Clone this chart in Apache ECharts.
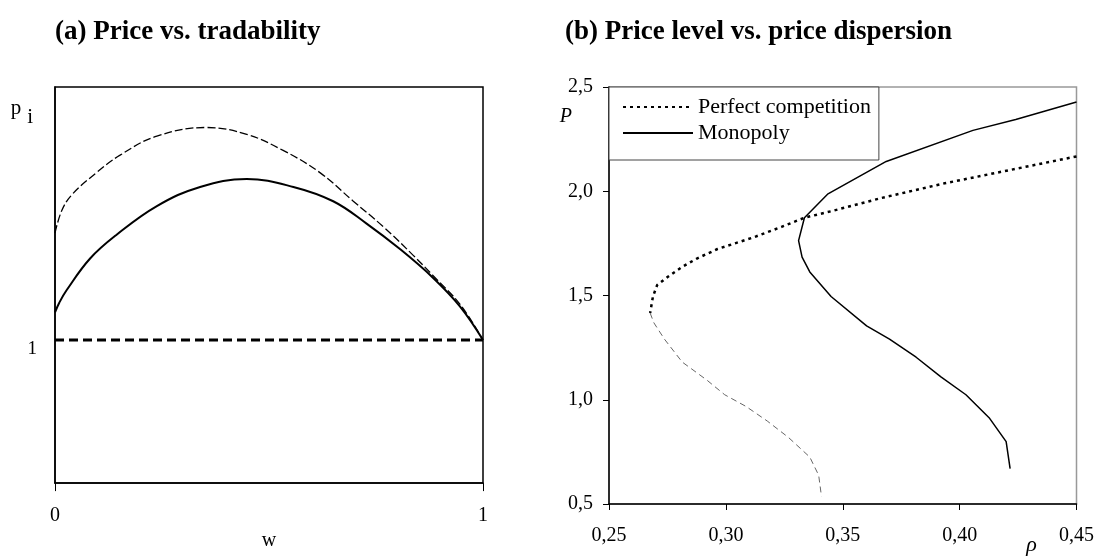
<!DOCTYPE html>
<html>
<head>
<meta charset="utf-8">
<script src="https://cdn.jsdelivr.net/npm/echarts@6/dist/echarts.min.js"></script>
<style>
  html, body { margin: 0; padding: 0; background: #fff; }
  #chart { width: 1097px; height: 556px; }
</style>
</head>
<body>
<div id="chart"></div>
<script>
// (a) price vs. tradability, w on [0, 1]
const wMono = [0, 0.01, 0.027, 0.082, 0.144, 0.238, 0.339, 0.448, 0.557, 0.65, 0.728, 0.806, 0.883, 0.946, 1];
const pMono = [1.193, 1.26, 1.347, 1.569, 1.735, 1.935, 2.069, 2.124, 2.069, 1.969, 1.813, 1.635, 1.435, 1.235, 1.0];
const wComp = [0, 0.0156, 0.039, 0.097, 0.152, 0.238, 0.354, 0.448, 0.533, 0.619, 0.697, 0.767, 0.837, 0.883, 0.946, 1];
const pComp = [1.747, 1.902, 2.013, 2.169, 2.291, 2.424, 2.484, 2.436, 2.324, 2.169, 1.969, 1.791, 1.591, 1.45, 1.25, 1.0];
const wBase = [0, 1];
const pBase = [1, 1];

// (b) price level P vs. price dispersion rho
const rhoMonopoly = [0.45, 0.424, 0.4057, 0.3686, 0.3435, 0.3336, 0.3311, 0.3326, 0.3359, 0.345, 0.3602, 0.370, 0.3814, 0.392, 0.4027, 0.4126, 0.4199, 0.4216];
const pMonopoly = [2.428, 2.344, 2.292, 2.143, 1.986, 1.873, 1.763, 1.684, 1.613, 1.495, 1.354, 1.291, 1.204, 1.110, 1.024, 0.914, 0.799, 0.670];
const rhoPerfectHigh = [0.45, 0.3936, 0.3663, 0.345, 0.3336, 0.3238, 0.3116, 0.2964, 0.2874, 0.2813, 0.2752, 0.2706, 0.2688, 0.2676];
const pPerfectHigh = [2.167, 2.038, 1.967, 1.904, 1.873, 1.829, 1.778, 1.723, 1.676, 1.637, 1.590, 1.550, 1.495, 1.416];
const rhoPerfectLow = [0.2676, 0.2692, 0.2737, 0.2813, 0.2919, 0.2995, 0.3086, 0.3177, 0.3268, 0.3359, 0.3397, 0.3409];
const pPerfectLow = [1.416, 1.369, 1.291, 1.181, 1.094, 1.024, 0.968, 0.898, 0.819, 0.725, 0.638, 0.536];

const pairs = (xs, ys) => xs.map((x, i) => [x, ys[i]]);
const comma = (v, d) => v.toFixed(d).replace('.', ',');

const FONT = 'Liberation Serif';
const chart = echarts.init(document.getElementById('chart'));

chart.setOption({
  animation: false,
  textStyle: { fontFamily: FONT, color: '#000' },
  title: [
    {
      text: '(a) Price vs. tradability',
      left: 50, top: 14,
      textStyle: { fontFamily: FONT, fontSize: 27, fontWeight: 'bold', color: '#000' }
    },
    {
      text: '(b) Price level vs. price dispersion',
      left: 560, top: 14,
      textStyle: { fontFamily: FONT, fontSize: 27, fontWeight: 'bold', color: '#000' }
    }
  ],
  legend: {
    orient: 'vertical',
    left: 609, top: 87,
    padding: [9, 8, 16, 13],
    itemGap: 4,
    itemWidth: 70,
    itemHeight: 14,
    backgroundColor: '#fff',
    borderColor: '#444',
    borderWidth: 1,
    itemStyle: { opacity: 0 },
    data: ['Perfect competition', 'Monopoly'],
    textStyle: { fontFamily: FONT, fontSize: 22, color: '#000' }
  },
  grid: [
    { left: 55, right: 614, top: 87, bottom: 54, show: true, borderColor: '#000', borderWidth: 1.5 },
    { left: 609, right: 19, top: 87, bottom: 46, show: true, borderColor: '#999', borderWidth: 1.5 }
  ],
  xAxis: [
    {
      gridIndex: 0, type: 'value', min: 0, max: 1, interval: 1,
      name: 'w', nameLocation: 'middle', nameGap: 33,
      nameTextStyle: { fontFamily: FONT, fontSize: 20, color: '#000' },
      axisLine: { lineStyle: { color: '#000', width: 1.5 } },
      axisTick: { show: true, length: 8, lineStyle: { color: '#000' } },
      axisLabel: { fontFamily: FONT, fontSize: 20, color: '#000', margin: 23 },
      splitLine: { show: false }
    },
    {
      gridIndex: 1, type: 'value', min: 0.25, max: 0.45, interval: 0.05,
      name: 'ρ', nameLocation: 'end', nameGap: -45,
      nameTextStyle: { fontFamily: FONT, fontSize: 22, fontStyle: 'italic', color: '#000',
        align: 'center', verticalAlign: 'top', padding: [30, 0, 0, 0] },
      axisLine: { lineStyle: { color: '#000', width: 1.5 } },
      axisTick: { show: true, length: 6, lineStyle: { color: '#000' } },
      axisLabel: { fontFamily: FONT, fontSize: 20, color: '#000', margin: 22,
        formatter: v => comma(v, 2) },
      splitLine: { show: false }
    }
  ],
  yAxis: [
    {
      gridIndex: 0, type: 'value', min: 0, max: 2.767,
      name: '{p|p}{i|i}', nameLocation: 'end', nameGap: -26,
      nameTextStyle: {
        align: 'right', verticalAlign: 'middle', padding: [0, 22, 0, 0],
        rich: {
          p: { fontFamily: FONT, fontSize: 21, color: '#000', lineHeight: 30, verticalAlign: 'top', padding: [0, 6, 0, 0] },
          i: { fontFamily: FONT, fontSize: 21, color: '#000', lineHeight: 30, verticalAlign: 'bottom' }
        }
      },
      axisLine: { lineStyle: { color: '#000', width: 1.5 } },
      axisTick: { show: false },
      axisLabel: { fontFamily: FONT, fontSize: 19, color: '#000', margin: 18,
        verticalAlign: 'top', customValues: [1] },
      splitLine: { show: false }
    },
    {
      gridIndex: 1, type: 'value', min: 0.5, max: 2.5, interval: 0.5,
      name: 'P', nameLocation: 'end', nameGap: -30,
      nameTextStyle: { fontFamily: FONT, fontSize: 20, fontStyle: 'italic', color: '#000',
        align: 'right', verticalAlign: 'middle', padding: [0, 37, 0, 0] },
      axisLine: { lineStyle: { color: '#000', width: 1.5 } },
      axisTick: { show: true, length: 6, lineStyle: { color: '#000' } },
      axisLabel: { fontFamily: FONT, fontSize: 20, color: '#000', margin: 16,
        formatter: v => comma(v, 1) },
      splitLine: { show: false }
    }
  ],
  series: [
    {
      name: 'base', type: 'line', xAxisIndex: 0, yAxisIndex: 0,
      data: pairs(wBase, pBase), symbol: 'none',
      lineStyle: { color: '#000', width: 3, type: [9, 5] }
    },
    {
      name: 'a-comp', type: 'line', xAxisIndex: 0, yAxisIndex: 0,
      data: pairs(wComp, pComp), symbol: 'none', smooth: 0.4,
      lineStyle: { color: '#000', width: 1.3, type: [8, 3] }
    },
    {
      name: 'a-mono', type: 'line', xAxisIndex: 0, yAxisIndex: 0,
      data: pairs(wMono, pMono), symbol: 'none', smooth: 0.4,
      lineStyle: { color: '#000', width: 2 }
    },
    {
      name: 'Perfect competition', type: 'line', xAxisIndex: 1, yAxisIndex: 1,
      data: pairs(rhoPerfectHigh, pPerfectHigh), symbol: 'none',
      itemStyle: { color: '#000' },
      lineStyle: { color: '#000', width: 2.5, type: [3, 4] }
    },
    {
      name: 'pc-low', type: 'line', xAxisIndex: 1, yAxisIndex: 1,
      data: pairs(rhoPerfectLow, pPerfectLow), symbol: 'none',
      lineStyle: { color: '#666', width: 1, type: [6, 4] }
    },
    {
      name: 'Monopoly', type: 'line', xAxisIndex: 1, yAxisIndex: 1,
      data: pairs(rhoMonopoly, pMonopoly), symbol: 'none',
      itemStyle: { color: '#000' },
      lineStyle: { color: '#000', width: 1.5 }
    }
  ]
});
</script>
</body>
</html>
